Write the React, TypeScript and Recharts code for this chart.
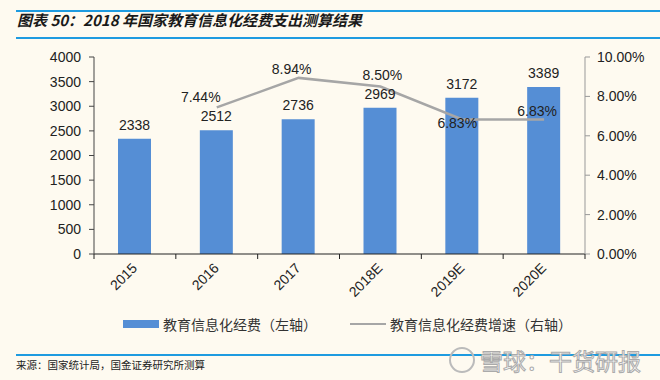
import { ComposedChart, Bar, Line, XAxis, YAxis, LabelList } from 'recharts'

const years = ['2015', '2016', '2017', '2018E', '2019E', '2020E']
const spending = [2338, 2512, 2736, 2969, 3172, 3389]
const growth: Array<number | null> = [null, 7.44, 8.94, 8.5, 6.83, 6.83]
const leftTicks = [0, 500, 1000, 1500, 2000, 2500, 3000, 3500, 4000]
const rightTicks = [0, 2, 4, 6, 8, 10]

const data = years.map((year, i) => ({ year, spending: spending[i], growth: growth[i] }))

const BG = '#FEFAF0'
const BLUE_LINE = '#1E9BE0'
const BAR = '#558ED5'
const GREY = '#A6A6A6'
const FONT = 'Liberation Sans, Arial, sans-serif'
const CJK = '"Noto Sans CJK SC", sans-serif'

const PLOT_W = 491
const HALF_BAND = PLOT_W / years.length / 2

// where each growth label sits relative to its point
const growthLabelShift = [
  { dx: 0, dy: 0 },
  { dx: -16, dy: -10 },
  { dx: -7, dy: -9 },
  { dx: 2, dy: -12 },
  { dx: -5, dy: 4 },
  { dx: -7, dy: -8 },
]

function XTick(props: any) {
  const { x, y, payload, index } = props
  const tx = x + 3
  const ty = y + 15
  return (
    <g>
      <line x1={x - HALF_BAND} y1={y} x2={x - HALF_BAND} y2={y + 5} stroke="#222" />
      {index === years.length - 1 && (
        <line x1={x + HALF_BAND} y1={y} x2={x + HALF_BAND} y2={y + 5} stroke="#222" />
      )}
      <text
        x={tx}
        y={ty}
        transform={`rotate(-45, ${tx}, ${ty})`}
        textAnchor="end"
        fontSize={14}
        fill="#222"
        fontFamily={FONT}
      >
        {payload.value}
      </text>
    </g>
  )
}

function GrowthLabel(props: any) {
  const { x, y, value, index } = props
  if (value == null) return null
  const s = growthLabelShift[index] || { dx: 0, dy: -10 }
  return (
    <text
      x={x + s.dx}
      y={y + s.dy}
      textAnchor="middle"
      dominantBaseline="central"
      fontSize={14}
      fill="#222"
      fontFamily={FONT}
    >
      {Number(value).toFixed(2)}%
    </text>
  )
}

export default function App() {
  return (
    <div style={{ position: 'absolute', left: 0, top: 0, width: 660, height: 380, background: BG, overflow: 'hidden' }}>
      <div style={{ position: 'absolute', left: 16, right: 0, top: 10, height: 2, background: BLUE_LINE }} />
      <div
        style={{
          position: 'absolute',
          left: 17,
          top: 9,
          fontFamily: CJK,
          fontWeight: 700,
          fontStyle: 'italic',
          fontSize: 15,
          color: '#1a1a1a',
          lineHeight: '22px',
          whiteSpace: 'nowrap',
        }}
      >
        图表 50：2018 年国家教育信息化经费支出测算结果
      </div>
      <div style={{ position: 'absolute', left: 16, right: 0, top: 37, height: 2, background: BLUE_LINE }} />

      <div style={{ position: 'absolute', left: 0, top: 0 }}>
        <ComposedChart width={660} height={380} data={data} margin={{ top: 57, right: 0, bottom: 66, left: 0 }}>
          <XAxis
            dataKey="year"
            yAxisId="left"
            height={60}
            stroke="#222"
            tickLine={false}
            tickSize={0}
            tickMargin={0}
            tick={<XTick />}
            interval={0}
          />
          <YAxis
            yAxisId="left"
            width={94}
            domain={[0, 4000]}
            ticks={leftTicks}
            interval={0}
            stroke="#444"
            tickSize={5}
            tickMargin={8}
            tick={{ fill: '#222', fontSize: 14, fontFamily: FONT }}
          />
          <YAxis
            yAxisId="right"
            orientation="right"
            width={75}
            domain={[0, 10]}
            ticks={rightTicks}
            interval={0}
            stroke="#999"
            tickSize={5}
            tickMargin={7}
            tickFormatter={(v: number) => `${v.toFixed(2)}%`}
            tick={{ fill: '#222', fontSize: 14, fontFamily: FONT }}
          />
          <Bar yAxisId="left" dataKey="spending" fill={BAR} barSize={33} isAnimationActive={false}>
            <LabelList
              dataKey="spending"
              position="top"
              offset={9}
              style={{ fill: '#222', fontSize: 14, fontFamily: FONT }}
            />
          </Bar>
          <Line
            yAxisId="right"
            dataKey="growth"
            stroke={GREY}
            strokeWidth={2.5}
            dot={false}
            activeDot={false}
            connectNulls={false}
            isAnimationActive={false}
          >
            <LabelList dataKey="growth" content={<GrowthLabel />} />
          </Line>
        </ComposedChart>
      </div>

      <div
        style={{
          position: 'absolute',
          top: 314,
          left: 123,
          display: 'flex',
          alignItems: 'center',
          fontFamily: CJK,
          fontSize: 14,
          color: '#333',
          whiteSpace: 'nowrap',
        }}
      >
        <span style={{ display: 'inline-block', width: 36, height: 8, background: BAR, marginRight: 4 }} />
        <span>教育信息化经费（左轴）</span>
        <span style={{ display: 'inline-block', width: 36, height: 2, background: GREY, marginLeft: 33, marginRight: 4 }} />
        <span>教育信息化经费增速（右轴）</span>
      </div>

      <div style={{ position: 'absolute', left: 16, right: 0, top: 354, height: 2, background: BLUE_LINE }} />
      <div
        style={{
          position: 'absolute',
          left: 16,
          top: 357,
          fontFamily: CJK,
          fontSize: 10.5,
          color: '#222',
          lineHeight: '16px',
          whiteSpace: 'nowrap',
        }}
      >
        来源：国家统计局，国金证券研究所测算
      </div>
      <svg style={{ position: 'absolute', left: 440, top: 340 }} width={220} height={40}>
        <circle cx={22} cy={20} r={12} fill="none" stroke="#bbb" strokeWidth={2} />
        <text
          x={40}
          y={30}
          fontFamily={CJK}
          fontSize={23}
          fill="#fff"
          stroke="#aaa"
          strokeWidth={1}
        >
          雪球：干货研报
        </text>
      </svg>
    </div>
  )
}
